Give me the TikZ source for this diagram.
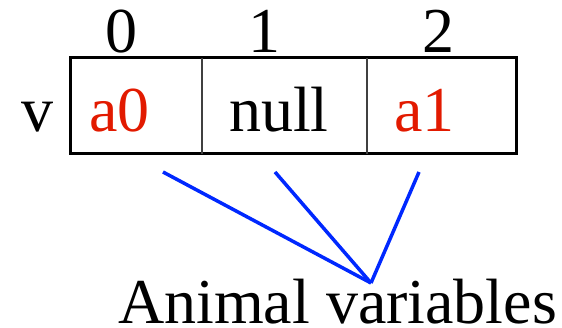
\documentclass[tikz,border=0pt]{standalone}
\usepackage{fontspec}
\setmainfont{Liberation Serif}
\usetikzlibrary{positioning,calc}
\definecolor{valred}{RGB}{226,26,0}
\definecolor{linkblue}{RGB}{0,40,255}
\definecolor{divgray}{gray}{0.25}

\begin{document}
\begin{tikzpicture}[
  x=1pt, y=1pt,
  cell/.style={minimum width=#1, minimum height=96pt, inner sep=0pt, outer sep=0pt},
  txt/.style={font=\fontsize{64}{77}\selectfont, inner sep=0pt, anchor=base west, text=#1},
  txt/.default=black,
  idx/.style={font=\fontsize{64}{77}\selectfont, inner sep=0pt, anchor=base},
  link/.style={draw=linkblue, line width=3.5pt},
]
  \useasboundingbox (0,0) rectangle (562,328);

  % array cells
  \node[cell=132pt] (c0) at (136,222) {};
  \node[cell=165pt, right=0pt of c0] (c1) {};
  \node[cell=149pt, right=0pt of c1] (c2) {};
  \draw[line width=3pt] (c0.north west) rectangle (c2.south east);
  \draw[divgray, line width=2pt] (c0.north east) -- (c0.south east);
  \draw[divgray, line width=2pt] (c1.north east) -- (c1.south east);

  % contents
  \node[txt=valred] (a0) at ($(c0.west)+(19,-26)$) {a0};
  \node[txt] (nul) at ($(c1.west)+(27,-26)$) {null};
  \node[txt=valred] (a1) at ($(c2.west)+(27,-26)$) {a1};
  \node[txt] (v) at (21,196) {v};

  % indices
  \node[idx] (i0) at ($(c0.north)+(-15,5)$) {0};
  \node[idx] (i1) at ($(c1.north)+(-20.5,5)$) {1};
  \node[idx] (i2) at ($(c2.north)+(-3.5,5)$) {2};

  % label and links
  \node[idx, text depth=0pt] (lbl) at (337.5,4) {Animal variables};
  \coordinate (hub) at (371,45);
  \coordinate (p0) at ($(c0.south)+(27,-18)$);
  \coordinate (p1) at ($(c1.south)+(-9.5,-18)$);
  \coordinate (p2) at ($(c2.south)+(-22.5,-18)$);
  \draw[link] (p0) -- (hub);
  \draw[link] (p1) -- (hub);
  \draw[link] (p2) -- (hub);
\end{tikzpicture}
\end{document}
